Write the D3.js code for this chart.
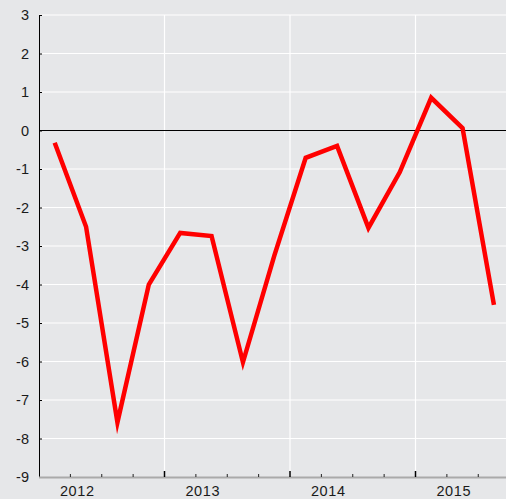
<!DOCTYPE html>
<html>
<head>
<meta charset="utf-8">
<script src="https://cdn.jsdelivr.net/npm/d3@7/dist/d3.min.js"></script>
<style>
	body { margin: 0; background: #e6e7e9; }
	svg { display: block; }
	text { font-family: "Liberation Sans", Arial, sans-serif; font-size: 14.5px; fill: #1a1a1a; }
</style>
</head>
<body>
<svg id="chart" width="506" height="499"></svg>
<script>
// quarterly values, 2012 Q1 .. 2015 Q3
const years = [2012, 2013, 2014, 2015]
const quarters = ["Q1", "Q2", "Q3", "Q4"]
const values = [-0.32, -2.5, -7.58, -4.0, -2.66, -2.74, -6.02, -3.25, -0.71, -0.4, -2.53, -1.08, 0.85, 0.06, -4.53]
const yTicks = [3, 2, 1, 0, -1, -2, -3, -4, -5, -6, -7, -8, -9]

const W = 506, H = 499
const padLeft = 39, padTop = 15, axisY = 477
const yearPx = 125.5

const svg = d3.select('#chart')

const x = d3.scaleLinear()
	.domain([2012, 2012 + (W - padLeft) / yearPx])
	.range([padLeft, W])
const y = d3.scaleLinear().domain([-9, 3]).range([axisY, padTop])

// data as points at quarter midpoints
const points = values.map((v, i) => ({
	t: years[0] + Math.floor(i / 4) + (i % 4 + 0.5) / 4,
	q: quarters[i % 4],
	v: v
}))

// background
svg.append('rect').attr('width', W).attr('height', H).attr('fill', '#e6e7e9')

// grid
svg.append('g').selectAll('line').data(yTicks.filter(d => d > -9 && d != 0))
	.join('line')
	.attr('x1', padLeft).attr('x2', W)
	.attr('y1', d => y(d)).attr('y2', d => y(d))
	.attr('stroke', '#ffffff').attr('stroke-width', 1.2)

svg.append('g').selectAll('line').data(years.slice(1))
	.join('line')
	.attr('x1', d => x(d)).attr('x2', d => x(d))
	.attr('y1', padTop).attr('y2', axisY)
	.attr('stroke', '#ffffff').attr('stroke-width', 1.2)

// zero line
svg.append('line')
	.attr('x1', padLeft).attr('x2', W)
	.attr('y1', y(0)).attr('y2', y(0))
	.attr('stroke', '#000').attr('stroke-width', 1)

// y axis
const yAxis = svg.append('g')
	.attr('transform', `translate(${padLeft},0)`)
	.call(d3.axisLeft(y).tickValues(yTicks).tickFormat(d => String(d)).tickSizeInner(-3).tickSizeOuter(0).tickPadding(10))
yAxis.select('.domain').attr('stroke', '#000')
yAxis.selectAll('.tick text')
	.style('font-size', '14.5px')
	.style('font-family', '"Liberation Sans", Arial, sans-serif')
	.attr('fill', '#1a1a1a')

// x axis: base line, quarter ticks, year ticks
svg.append('line')
	.attr('x1', padLeft).attr('x2', W)
	.attr('y1', axisY + 0.5).attr('y2', axisY + 0.5)
	.attr('stroke', '#aaaaaa').attr('stroke-width', 2)

const qTicks = []
for (let yr of years) for (let k = 1; k < 4; k++) qTicks.push(yr + k / 4)
svg.append('g').selectAll('line').data(qTicks.filter(d => x(d) < W))
	.join('line')
	.attr('x1', d => x(d)).attr('x2', d => x(d))
	.attr('y1', axisY - 3).attr('y2', axisY)
	.attr('stroke', '#222').attr('stroke-width', 1)

svg.append('g').selectAll('line').data(years.slice(1))
	.join('line')
	.attr('x1', d => x(d)).attr('x2', d => x(d))
	.attr('y1', axisY - 6).attr('y2', axisY)
	.attr('stroke', '#000').attr('stroke-width', 1.5)

svg.append('g').selectAll('text').data(years)
	.join('text')
	.attr('x', d => x(d + 0.305))
	.attr('y', 496)
	.attr('text-anchor', 'middle')
	.style('letter-spacing', '0.6px')
	.text(d => d)

// series
const line = d3.line().x(d => x(d.t)).y(d => y(d.v))
svg.append('path')
	.datum(points)
	.attr('d', line)
	.attr('fill', 'none')
	.attr('stroke', '#ff0000')
	.attr('stroke-width', 4.5)
	.attr('stroke-linejoin', 'miter')
	.attr('stroke-miterlimit', 10)
</script>
</body>
</html>
